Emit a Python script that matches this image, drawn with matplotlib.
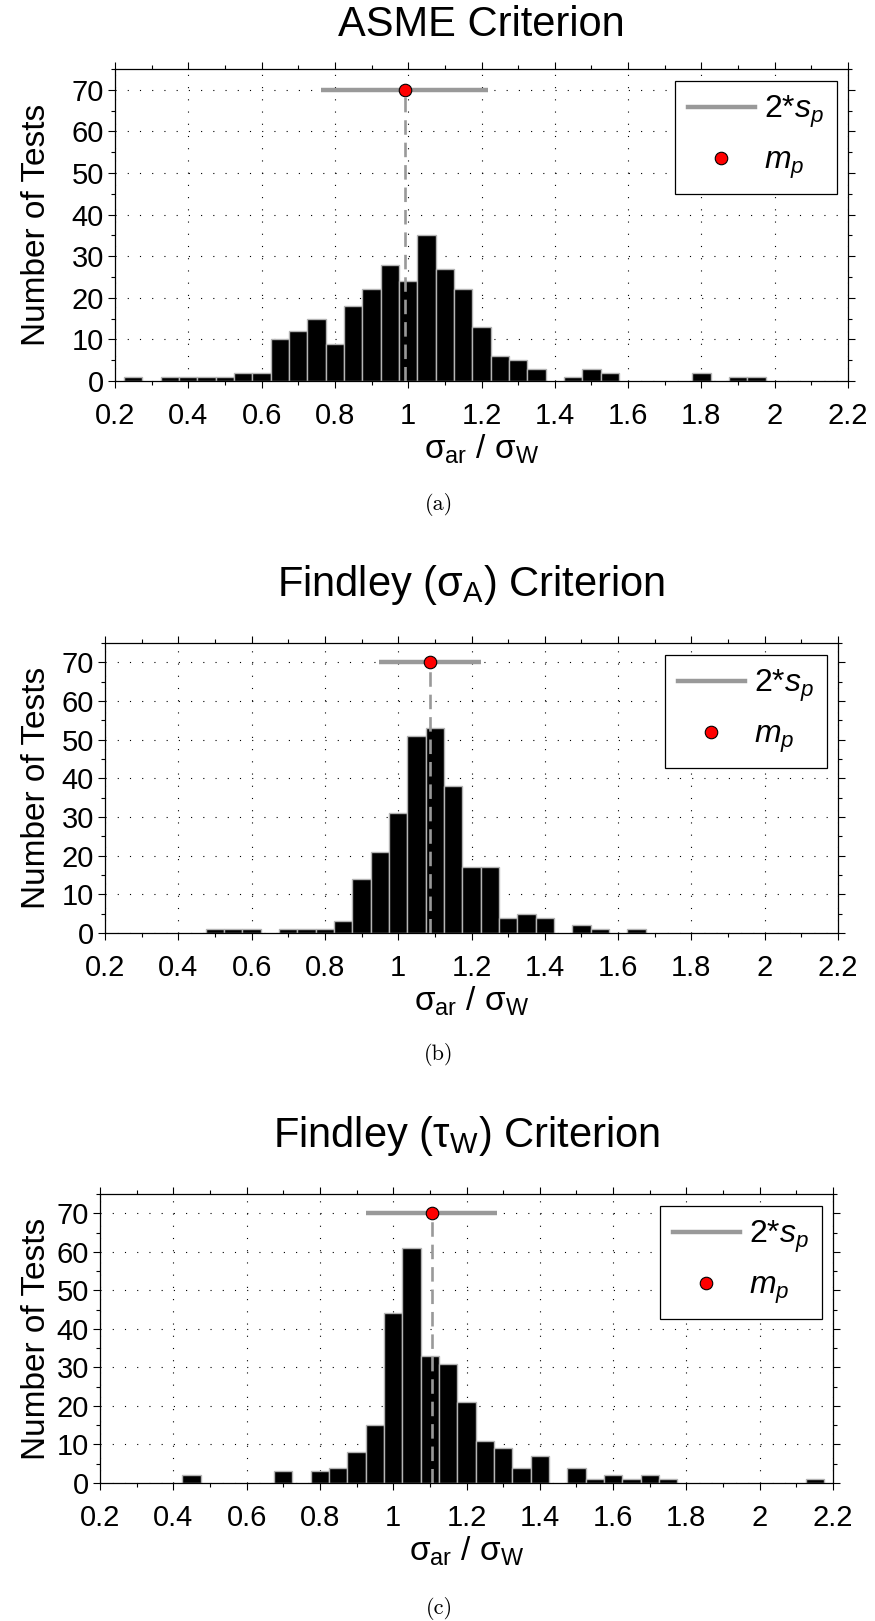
import matplotlib.pyplot as plt
import matplotlib.transforms as mtransforms
from matplotlib.lines import Line2D
from matplotlib.ticker import MultipleLocator

plt.rcParams['font.family'] = ['Liberation Sans', 'DejaVu Sans']
plt.rcParams['mathtext.fontset'] = 'custom'
plt.rcParams['mathtext.rm'] = 'Liberation Sans'
plt.rcParams['mathtext.it'] = 'Liberation Sans:italic'
plt.rcParams['mathtext.bf'] = 'Liberation Sans:bold'

# bin centres and counts (268 tests each)
asme_centers = [0.25, 0.35, 0.40, 0.45, 0.50, 0.55, 0.60, 0.65, 0.70, 0.75, 0.80,
                0.85, 0.90, 0.95, 1.00, 1.05, 1.10, 1.15, 1.20, 1.25, 1.30, 1.35,
                1.45, 1.50, 1.55, 1.80, 1.90, 1.95]
asme_counts = [1, 1, 1, 1, 1, 2, 2, 10, 12, 15, 9,
               18, 22, 28, 24, 35, 27, 22, 13, 6, 5, 3,
               1, 3, 2, 2, 1, 1]

findley_a_centers = [0.50, 0.55, 0.60, 0.70, 0.75, 0.80, 0.85, 0.90, 0.95, 1.00,
                     1.05, 1.10, 1.15, 1.20, 1.25, 1.30, 1.35, 1.40, 1.50, 1.55, 1.65]
findley_a_counts = [1, 1, 1, 1, 1, 1, 3, 14, 21, 31,
                    51, 53, 38, 17, 17, 4, 5, 4, 2, 1, 1]

findley_w_centers = [0.45, 0.70, 0.80, 0.85, 0.90, 0.95, 1.00, 1.05, 1.10, 1.15,
                     1.20, 1.25, 1.30, 1.35, 1.40, 1.50, 1.55, 1.60, 1.65, 1.70,
                     1.75, 2.15]
findley_w_counts = [2, 3, 3, 4, 8, 15, 44, 61, 33, 31,
                    21, 11, 9, 4, 7, 4, 1, 2, 1, 2,
                    1, 1]

# mean m_p and s_p of each criterion
means = [0.990, 1.086, 1.105]
spreads = [0.228, 0.139, 0.178]

titles = ['ASME Criterion', 'Findley (σ$_\\mathrm{A}$) Criterion',
          'Findley (τ$_\\mathrm{W}$) Criterion']
captions = ['(a)', '(b)', '(c)']

x_ticks = [0.2, 0.4, 0.6, 0.8, 1.0, 1.2, 1.4, 1.6, 1.8, 2.0, 2.2]
x_tick_labels = ['0.2', '0.4', '0.6', '0.8', '1', '1.2', '1.4', '1.6', '1.8', '2', '2.2']
y_ticks = [0, 10, 20, 30, 40, 50, 60, 70]
y_tick_labels = ['0', '10', '20', '30', '40', '50', '60', '70']

GRAY = '#999999'
W, H = 875, 1621

fig = plt.figure(figsize=(W / 100, H / 100), dpi=100)

# axes boxes in pixels: left, right, top, bottom
boxes = [(115, 848, 69, 381), (105, 838, 643, 933), (100, 833, 1194, 1483)]
title_pad = [24, 34, 34]
caption_y = [504, 1055, 1608]
data = [(asme_centers, asme_counts), (findley_a_centers, findley_a_counts),
        (findley_w_centers, findley_w_counts)]

for i, (l, r, t, b) in enumerate(boxes):
    ax = fig.add_axes([l / W, 1 - b / H, (r - l) / W, (b - t) / H])
    centers, counts = data[i]
    ax.bar(centers, counts, width=0.05, color='black', edgecolor='#b4b4b4',
           linewidth=1.0, zorder=2)
    m, s = means[i], spreads[i]
    ax.plot([m, m], [0, 70], color=GRAY, lw=1.9, dashes=(5.5, 3), zorder=3)
    ax.plot([m - s, m + s], [70, 70], color=GRAY, lw=3.2, solid_capstyle='butt', zorder=3)
    ax.plot([m], [70], 'o', ms=9, mfc='red', mec='black', mew=0.8, zorder=4)

    ax.set_xlim(0.2, 2.2)
    ax.set_ylim(0, 75)
    ax.set_xticks(x_ticks)
    ax.set_xticklabels(x_tick_labels)
    ax.set_yticks(y_ticks)
    ax.set_yticklabels(y_tick_labels)
    ax.xaxis.set_minor_locator(MultipleLocator(0.1))
    ax.yaxis.set_minor_locator(MultipleLocator(5))
    ax.tick_params(which='both', direction='out', top=True, right=True, width=0.8)
    ax.tick_params(which='major', length=5, labelsize=21)
    ax.tick_params(axis='x', which='major', pad=10)
    ax.tick_params(axis='y', which='major', pad=3)
    ax.tick_params(which='minor', length=3)
    for sp in ax.spines.values():
        sp.set_linewidth(0.9)
    ax.set_axisbelow(True)
    ax.grid(True, which='major', color='black', linestyle=(0, (1, 10)), linewidth=0.8)

    ax.set_title(titles[i], fontsize=30, pad=title_pad[i])
    ax.set_xlabel('σ$_\\mathrm{ar}$ / σ$_\\mathrm{W}$', fontsize=24)
    ax.xaxis.set_label_coords(0.5, -52 / (b - t))
    ax.set_ylabel('Number of Tests', fontsize=24)
    trans = mtransforms.blended_transform_factory(fig.transFigure, ax.transAxes)
    ax.yaxis.set_label_coords(52 / W, 0.5, transform=trans)

    handles = [Line2D([], [], color=GRAY, lw=3.2),
               Line2D([], [], ls='', marker='o', ms=9, mfc='red', mec='black', mew=0.8)]
    leg = ax.legend(handles, ['2*$s_p$', '$m_p$'], loc='upper right',
                    bbox_to_anchor=(1 - 11 / (r - l), 1 - 12 / (b - t)),
                    borderaxespad=0, fontsize=23, frameon=True, fancybox=False,
                    framealpha=1, edgecolor='black', borderpad=0.4,
                    labelspacing=0.5, handlelength=2.1, handletextpad=0.3)
    leg.get_frame().set_linewidth(0.9)

    fig.text(439 / W, 1 - caption_y[i] / H, captions[i], ha='center', va='center',
             fontsize=16, family=['cmr10', 'DejaVu Serif'])

fig.savefig('out.png', dpi=100)
